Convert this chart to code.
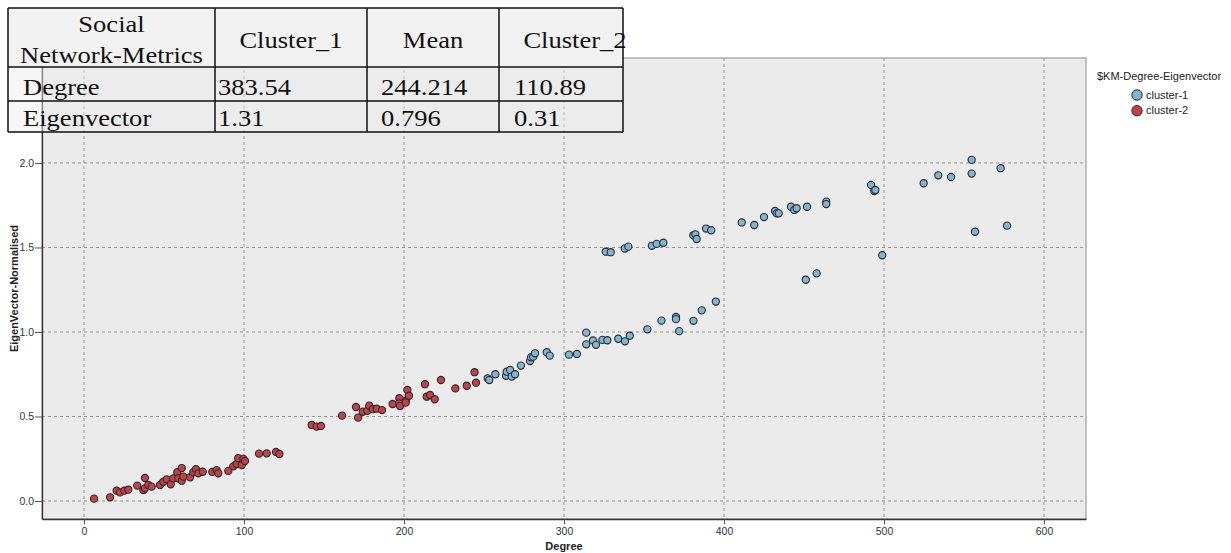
<!DOCTYPE html>
<html>
<head>
<meta charset="utf-8">
<script src="https://cdn.jsdelivr.net/npm/d3@7"></script>
<style>
  body { margin: 0; background: #fff; }
  svg { display: block; }
</style>
</head>
<body>
<div id="chart"></div>
<script>
// cluster-1 : [Degree, EigenVector-Normalised]
const cluster1 = [
  [252.3, 0.726], [253.3, 0.716], [257.1, 0.75], [263.8, 0.741], [264.2, 0.765],
  [266.3, 0.775], [267.3, 0.736], [269.4, 0.75], [273.1, 0.801], [278.8, 0.828],
  [279.4, 0.85], [280.8, 0.854], [281.9, 0.874], [289.2, 0.88], [291.1, 0.86],
  [303.1, 0.866], [308.1, 0.87], [313.9, 0.996], [313.9, 0.927], [318.1, 0.95],
  [320, 0.924], [324, 0.953], [327.1, 0.951], [333.9, 0.96], [338.1, 0.945],
  [341.1, 0.978], [352.1, 1.016], [360.9, 1.067], [370, 1.089], [370, 1.076],
  [372, 1.005], [380.9, 1.066], [386.1, 1.128], [394.9, 1.18], [451.1, 1.309],
  [457.9, 1.347], [498.9, 1.454], [556.9, 1.593], [576.9, 1.629],
  [326.1, 1.475], [329.2, 1.472], [338, 1.494], [340.2, 1.505], [354.9, 1.51],
  [357.9, 1.521], [362.1, 1.528], [380.8, 1.572], [382.1, 1.578], [382.9, 1.55],
  [388.8, 1.612], [392, 1.602], [411.1, 1.648], [418.9, 1.633], [425, 1.68],
  [431.9, 1.716], [432.9, 1.702], [434.2, 1.702], [441.9, 1.741], [443.9, 1.722],
  [445.4, 1.732], [451.9, 1.741], [463.9, 1.771], [463.9, 1.757], [491.9, 1.87],
  [493.9, 1.834], [494.6, 1.84], [524.8, 1.88], [533.9, 1.927], [541.9, 1.917],
  [554.8, 2.018], [554.8, 1.937], [572.9, 1.969]
]

// cluster-2
const cluster2 = [
  [6.3, 0.014], [16.3, 0.022], [20.4, 0.061], [22.5, 0.051], [25.2, 0.061],
  [27.7, 0.067], [33.3, 0.091], [37.1, 0.065], [38.1, 0.136], [38.1, 0.075],
  [40.2, 0.095], [42.3, 0.085], [47.5, 0.095], [49.6, 0.114], [51.7, 0.128],
  [54.2, 0.099], [55.8, 0.134], [58.3, 0.17], [58.9, 0.134], [61.1, 0.195],
  [61.1, 0.12], [62.1, 0.144], [66.3, 0.14], [68.3, 0.17], [70, 0.188],
  [71.4, 0.164], [74.2, 0.173], [80.2, 0.172], [82.9, 0.183], [83.9, 0.164],
  [90.2, 0.178], [93.3, 0.205], [95.4, 0.219], [96.4, 0.253], [98.6, 0.213],
  [99.6, 0.249], [100.6, 0.237], [109.4, 0.28], [114.2, 0.282], [120, 0.29],
  [122.1, 0.278], [142.3, 0.45], [145.4, 0.44], [148.1, 0.444], [161.3, 0.505],
  [170, 0.556], [171.3, 0.493], [174.2, 0.528], [177.1, 0.534], [178.3, 0.564],
  [180.4, 0.543], [182.9, 0.546], [186.3, 0.538], [192.9, 0.574], [197.1, 0.608],
  [197.1, 0.578], [197.5, 0.562], [201.1, 0.592], [202.1, 0.657], [203.1, 0.623],
  [201.1, 0.582], [213.1, 0.691], [214.2, 0.617], [216.3, 0.627], [219.2, 0.602],
  [223.1, 0.716], [232.1, 0.666], [239.2, 0.682], [244.1, 0.762], [245, 0.7]
]

const clusterNames = ['cluster-1', 'cluster-2']
const xTicks = [0, 100, 200, 300, 400, 500, 600]
const yTicks = [0, 0.5, 1.0, 1.5, 2.0]

const tableHeader = [['Social', 'Network-Metrics'], ['Cluster_1'], ['Mean'], ['Cluster_2']]
const tableRows = [
  ['Degree', '383.54', '244.214', '110.89'],
  ['Eigenvector', '1.31', '0.796', '0.31']
]

const W = 1231
const H = 553
const margin = { top: 58, left: 42, right: 145, bottom: 34 }
const width = W - margin.left - margin.right
const height = H - margin.top - margin.bottom

const colors = { 'cluster-1': '#80b5d5', 'cluster-2': '#c2424a' }

const frame = d3
  .select('#chart')
  .append('svg')
  .attr('width', W)
  .attr('height', H)
  .style('font-family', 'Liberation Sans, Arial, sans-serif')

const svg = frame
  .append('g')
  .attr('transform', 'translate(' + margin.left + ',' + margin.top + ')')

const x = d3
  .scaleLinear()
  .domain([-26.25, 626.25])
  .range([0, width])

const y = d3
  .scaleLinear()
  .domain([-0.1065, 2.621])
  .range([height, 0])

svg
  .append('rect')
  .attr('width', width)
  .attr('height', height)
  .attr('fill', '#ebebeb')
  .attr('stroke', '#8a8a8a')

// grid
svg
  .selectAll('.vgrid')
  .data(xTicks)
  .enter()
  .append('line')
  .attr('x1', d => x(d))
  .attr('x2', d => x(d))
  .attr('y1', 0)
  .attr('y2', height)
  .attr('stroke', '#959595')
  .attr('stroke-dasharray', '3,3')

svg
  .selectAll('.hgrid')
  .data(yTicks)
  .enter()
  .append('line')
  .attr('x1', 0)
  .attr('x2', width)
  .attr('y1', d => y(d))
  .attr('y2', d => y(d))
  .attr('stroke', '#959595')
  .attr('stroke-dasharray', '3,3')

// axes
const xAxis = svg
  .append('g')
  .attr('transform', 'translate(0,' + height + ')')
  .call(
    d3
      .axisBottom(x)
      .tickValues(xTicks)
      .tickFormat(d3.format('d'))
      .tickSize(5)
      .tickSizeOuter(0)
      .tickPadding(4)
  )

const yAxis = svg
  .append('g')
  .call(
    d3
      .axisLeft(y)
      .tickValues(yTicks)
      .tickFormat(d3.format('.1f'))
      .tickSize(7)
      .tickSizeOuter(0)
      .tickPadding(1)
  )

;[xAxis, yAxis].forEach(a => {
  a.select('.domain').attr('stroke', '#333').attr('stroke-width', 1.3)
  a.selectAll('.tick line').attr('stroke', '#555')
  a.selectAll('.tick text')
    .attr('fill', '#333')
    .style('font-family', '"Liberation Sans Narrow", "Liberation Sans", Arial, sans-serif')
    .style('font-size', '10.5px')
})

svg
  .append('text')
  .text('Degree')
  .attr('x', width / 2)
  .attr('y', height + 31)
  .attr('text-anchor', 'middle')
  .attr('font-weight', 'bold')
  .attr('font-size', 11)
  .attr('fill', '#222')

svg
  .append('text')
  .text('EigenVector-Normalised')
  .attr('transform', 'translate(' + (18 - margin.left) + ',' + height / 2 + ') rotate(-90)')
  .attr('text-anchor', 'middle')
  .attr('font-weight', 'bold')
  .attr('font-size', 11)
  .attr('fill', '#222')

// points
const points = cluster2
  .map(d => ({ deg: d[0], eig: d[1], cl: 'cluster-2' }))
  .concat(cluster1.map(d => ({ deg: d[0], eig: d[1], cl: 'cluster-1' })))

svg
  .selectAll('.pt')
  .data(points)
  .enter()
  .append('circle')
  .attr('class', 'pt')
  .attr('cx', d => x(d.deg))
  .attr('cy', d => y(d.eig))
  .attr('r', 3.6)
  .attr('fill', d => colors[d.cl])
  .attr('stroke', '#2b2b2b')
  .attr('stroke-width', 1.1)

// legend
const legend = frame.append('g').attr('transform', 'translate(1097,0)')

legend
  .append('text')
  .text('$KM-Degree-Eigenvector')
  .attr('x', 0)
  .attr('y', 79.5)
  .attr('font-size', 11)
  .attr('fill', '#222')

const items = legend
  .selectAll('.item')
  .data(clusterNames)
  .enter()
  .append('g')
  .attr('transform', (d, i) => 'translate(40,' + (95 + i * 15.7) + ')')

items
  .append('circle')
  .attr('r', 5.2)
  .attr('fill', d => colors[d])
  .attr('stroke', '#2b2b2b')
  .attr('stroke-width', 1)

items
  .append('text')
  .text(d => d)
  .attr('x', 9)
  .attr('y', 3.7)
  .attr('font-size', 11)
  .attr('fill', '#222')

// table overlay
const colEdges = [8, 215, 367, 499, 623]
const rowEdges = [8, 67, 101, 132]
const table = frame.append('g').style('font-family', '"Liberation Serif", "Times New Roman", serif')

table
  .append('rect')
  .attr('x', colEdges[0])
  .attr('y', rowEdges[0])
  .attr('width', colEdges[4] - colEdges[0])
  .attr('height', rowEdges[1] - rowEdges[0])
  .attr('fill', '#f2f2f2')

table
  .append('rect')
  .attr('x', colEdges[0])
  .attr('y', rowEdges[1])
  .attr('width', colEdges[4] - colEdges[0])
  .attr('height', rowEdges[3] - rowEdges[1])
  .attr('fill', '#eeeeee')
  .attr('fill-opacity', 0.45)

table
  .selectAll('.hline')
  .data(rowEdges)
  .enter()
  .append('line')
  .attr('x1', colEdges[0])
  .attr('x2', colEdges[4])
  .attr('y1', d => d)
  .attr('y2', d => d)
  .attr('stroke', '#111')
  .attr('stroke-width', 1.5)

table
  .selectAll('.vline')
  .data(colEdges)
  .enter()
  .append('line')
  .attr('x1', d => d)
  .attr('x2', d => d)
  .attr('y1', rowEdges[0])
  .attr('y2', rowEdges[3])
  .attr('stroke', '#111')
  .attr('stroke-width', 1.5)

const headerX = [111.5, 291, 433, 575]
const headerY = [[31.5, 62.5], [48], [48], [48]]
tableHeader.forEach((lines, c) => {
  lines.forEach((t, k) => {
    table
      .append('text')
      .text(t)
      .attr('transform', 'translate(' + headerX[c] + ',' + headerY[c][k] + ') scale(1.13,1)')
      .attr('text-anchor', 'middle')
      .attr('font-size', 23.5)
      .attr('fill', '#111')
  })
})

const cellX = [23, 218, 381, 514]
const rowY = [94.5, 126]
tableRows.forEach((row, r) => {
  row.forEach((t, c) => {
    table
      .append('text')
      .text(t)
      .attr('transform', 'translate(' + cellX[c] + ',' + rowY[r] + ') scale(1.13,1)')
      .attr('font-size', 23.5)
      .attr('fill', '#111')
  })
})
</script>
</body>
</html>
